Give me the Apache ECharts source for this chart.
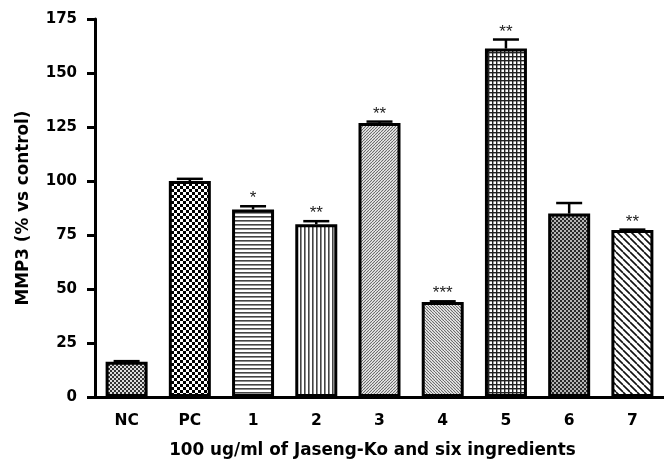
<!DOCTYPE html>
<html>
<head>
<meta charset="utf-8">
<script src="https://cdn.jsdelivr.net/npm/echarts@6/dist/echarts.min.js"></script>
<style>
  html, body { margin: 0; padding: 0; background: #fff; }
  #chart { width: 664px; height: 464px; }
</style>
</head>
<body>
<div id="chart"></div>
<script>
const categories = ['NC', 'PC', '1', '2', '3', '4', '5', '6', '7'];
const means = [16.3, 100, 86.8, 80, 126.9, 44, 161.3, 84.9, 77.3];
const errors = [0.3, 1, 1.5, 1.4, 0.6, 0.3, 4.2, 4.9, 0.2];
const stars = ['', '', '*', '**', '**', '***', '**', '', '**'];
const yTicks = [0, 25, 50, 75, 100, 125, 150, 175];

// small tiles used as fill patterns
function tile(w, h, draw) {
  const c = document.createElement('canvas');
  c.width = w;
  c.height = h;
  const ctx = c.getContext('2d');
  ctx.fillStyle = '#fff';
  ctx.fillRect(0, 0, w, h);
  draw(ctx, w, h);
  return { image: c, repeat: 'repeat' };
}
function checker(size, dark, light) {
  return tile(size * 2, size * 2, (ctx) => {
    ctx.fillStyle = light;
    ctx.fillRect(0, 0, size * 2, size * 2);
    ctx.fillStyle = dark;
    ctx.fillRect(0, 0, size, size);
    ctx.fillRect(size, size, size, size);
  });
}
function diag(size, color, lw, up) {
  return tile(size, size, (ctx, w, h) => {
    ctx.strokeStyle = color;
    ctx.lineWidth = lw;
    ctx.beginPath();
    for (let k = -1; k <= 1; k++) {
      if (up) {
        ctx.moveTo(k * w, h);
        ctx.lineTo(k * w + w, 0);
      } else {
        ctx.moveTo(k * w, 0);
        ctx.lineTo(k * w + w, h);
      }
    }
    ctx.stroke();
  });
}

const fills = [
  checker(2, '#333', '#ddd'),
  checker(3, '#000', '#fff'),
  tile(4, 4, (ctx) => { ctx.fillStyle = '#444'; ctx.fillRect(0, 0, 4, 1.6); }),
  tile(4, 4, (ctx) => { ctx.fillStyle = '#444'; ctx.fillRect(0, 0, 1.6, 4); }),
  diag(3, '#666', 1.1, true),
  diag(3, '#666', 1.1, false),
  tile(4, 4, (ctx) => {
    ctx.fillStyle = '#222';
    ctx.fillRect(0, 0, 4, 1.4);
    ctx.fillRect(0, 0, 1.4, 4);
  }),
  checker(2, '#2a2a2a', '#b5b5b5'),
  diag(7, '#111', 1.6, false)
];

const chart = echarts.init(document.getElementById('chart'));
const font = '"DejaVu Sans", sans-serif';

chart.setOption({
  animation: false,
  grid: { left: 95, right: -5, top: 19, bottom: 63.5 },
  xAxis: {
    type: 'category',
    data: categories,
    name: '100 ug/ml of Jaseng-Ko and six ingredients',
    nameLocation: 'middle',
    nameGap: 45,
    nameTextStyle: { fontFamily: font, fontWeight: 'bold', fontSize: 16.8, color: '#000', padding: [0, 14, 0, 0] },
    axisLine: { lineStyle: { color: '#000', width: 3 } },
    axisTick: { alignWithLabel: true, length: 7, lineStyle: { color: '#000', width: 3 } },
    axisLabel: { fontFamily: font, fontWeight: 'bold', fontSize: 15.5, color: '#000', margin: 16 }
  },
  yAxis: {
    type: 'value',
    min: 0,
    max: 175,
    interval: 25,
    name: 'MMP3 (% vs control)',
    nameLocation: 'middle',
    nameGap: 63,
    nameTextStyle: { fontFamily: font, fontWeight: 'bold', fontSize: 16.8, color: '#000' },
    axisLine: { show: true, lineStyle: { color: '#000', width: 3 } },
    axisTick: { show: true, length: 8, lineStyle: { color: '#000', width: 3 } },
    axisLabel: {
      fontFamily: font, fontWeight: 'bold', fontSize: 15, color: '#000', margin: 18,
      formatter: (v) => yTicks.includes(v) ? String(v) : ''
    },
    splitLine: { show: false }
  },
  series: [
    {
      type: 'bar',
      barWidth: 42,
      data: means.map((v, i) => ({
        value: v,
        itemStyle: { color: fills[i], borderColor: '#000', borderWidth: 3 }
      })),
      z: 2
    },
    {
      type: 'custom',
      z: 3,
      data: means.map((v, i) => [i, v, errors[i]]),
      renderItem: (params, api) => {
        const i = api.value(0);
        const base = api.coord([i, api.value(1)]);
        const top = api.coord([i, api.value(1) + api.value(2)]);
        const half = 13;
        const children = [
          {
            type: 'line',
            shape: { x1: base[0], y1: base[1], x2: top[0], y2: top[1] },
            style: { stroke: '#000', lineWidth: 2.5 }
          },
          {
            type: 'line',
            shape: { x1: top[0] - half, y1: top[1], x2: top[0] + half, y2: top[1] },
            style: { stroke: '#000', lineWidth: 2.5 }
          }
        ];
        if (stars[i]) {
          children.push({
            type: 'text',
            style: {
              x: top[0],
              y: top[1] + 1,
              text: stars[i],
              align: 'center',
              verticalAlign: 'bottom',
              font: '17px "Liberation Sans", sans-serif',
              fill: '#222'
            }
          });
        }
        return { type: 'group', children };
      }
    }
  ]
});
</script>
</body>
</html>
